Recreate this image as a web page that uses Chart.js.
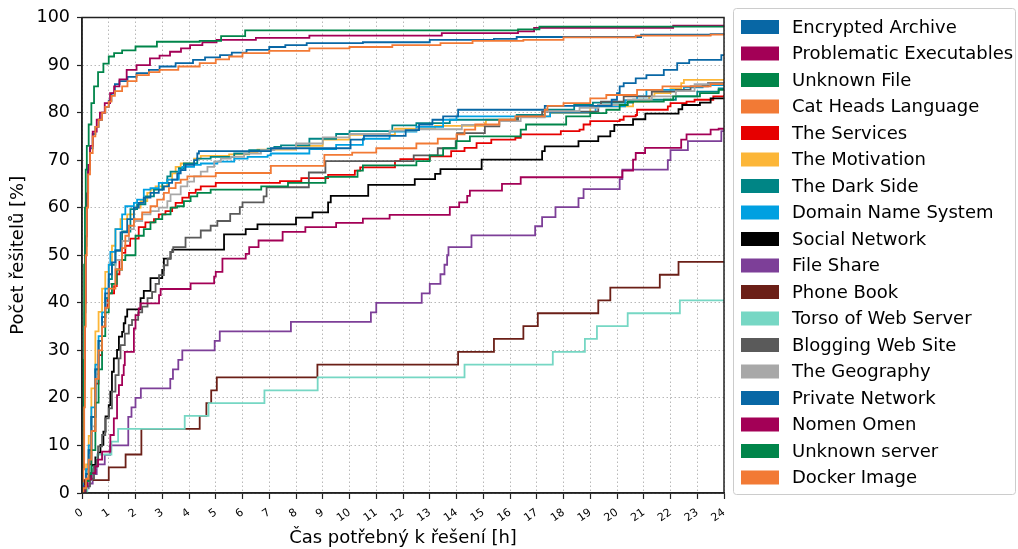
<!DOCTYPE html>
<html>
<head>
<meta charset="utf-8">
<script src="https://cdn.jsdelivr.net/npm/chart.js@4/dist/chart.umd.min.js"></script>
<style>
  html, body { margin: 0; padding: 0; background: #fff; }
  canvas { display: block; }
</style>
</head>
<body>
<canvas id="chart" width="1018" height="549"></canvas>
<script>
// series names and colours (palette repeats after 14 entries)
const seriesNames = [
  'Encrypted Archive', 'Problematic Executables', 'Unknown File', 'Cat Heads Language',
  'The Services', 'The Motivation', 'The Dark Side', 'Domain Name System',
  'Social Network', 'File Share', 'Phone Book', 'Torso of Web Server',
  'Blogging Web Site', 'The Geography', 'Private Network', 'Nomen Omen',
  'Unknown server', 'Docker Image'
];
const seriesColors = [
  '#0867a5', '#a30056', '#00854a', '#f27a35',
  '#e60000', '#fcb638', '#008585', '#00a0e1',
  '#000000', '#7d3f98', '#6b1f17', '#76d7c4',
  '#5a5a5a', '#a8a8a8', '#0867a5', '#a30056',
  '#00854a', '#f27a35'
];

// [hours, percent of solvers]
const encryptedArchive = [[0,0],[0.04,6],[0.07,20],[0.1,38],[0.13,52],[0.17,62],[0.22,68],[0.3,72.5],[0.4,75.5],[0.5,77],[0.62,78.5],[0.75,80],[0.87,81.2],[1.0,82.5],[1.1,84],[1.23,86],[1.4,86.6],[1.7,87.5],[2.04,88.3],[2.5,89],[2.9,89.7],[3.5,90.4],[4.15,91.1],[4.6,91.6],[5.16,92.1],[5.6,92.6],[6.15,93.2],[7.0,93.8],[7.6,94.2],[8.4,94.6],[10.5,94.8],[13.0,95.3],[15.4,95.5],[16.25,95.9],[20.9,96.4],[23.5,96.5],[24,96.5]];
const problematicExecutables = [[0,0],[0.04,7],[0.08,24],[0.11,40],[0.14,54],[0.18,63],[0.23,69],[0.3,73],[0.4,76],[0.55,78.5],[0.67,80],[0.85,82],[1.05,84.1],[1.2,85.5],[1.4,87],[1.67,89],[2.04,90],[2.54,91.4],[2.9,92],[3.29,92.8],[3.7,93.5],[4.04,94.2],[4.5,94.8],[5.03,95.3],[6.5,95.7],[8.5,96.2],[13.45,96.7],[16.3,97.1],[16.9,97.8],[22.1,98.3],[24,98.3]];
const unknownFile = [[0,0],[0.03,10],[0.05,28],[0.08,48],[0.11,60],[0.14,68],[0.18,73],[0.25,77.5],[0.35,82],[0.45,85.5],[0.6,88.5],[0.8,90.3],[1.0,91.8],[1.2,92.5],[1.5,93.1],[2.0,93.9],[2.8,94.9],[4.4,95.1],[5.2,96.1],[6.1,97.3],[16.3,97.5],[17.1,98.1],[24,98.1]];
const catHeadsLanguage = [[0,0],[0.05,5],[0.08,18],[0.11,35],[0.14,50],[0.18,60],[0.23,67],[0.3,71.5],[0.4,75],[0.5,77],[0.62,78.5],[0.75,80],[0.87,81.2],[1.0,82.3],[1.1,83.5],[1.23,84.5],[1.5,85.5],[1.7,86.6],[2.04,87.9],[2.5,88.5],[2.9,89],[3.6,89.7],[4.4,90.4],[5.0,91.2],[5.5,91.8],[6.0,92.5],[7.0,93],[8.5,93.5],[10,93.8],[11.6,94.2],[13.4,94.6],[14.6,95.1],[16.5,95.3],[18,95.8],[20.7,96.2],[23.5,96.4],[24,96.6]];
const theServices = [[0,0],[0.05,1],[0.15,3],[0.25,6],[0.35,13],[0.5,23],[0.62,29],[0.75,35],[0.87,39],[0.95,41],[1.0,42],[1.2,43.5],[1.3,46],[1.4,49],[1.5,50.5],[1.62,52],[1.8,53.5],[2.12,55.9],[2.37,56.9],[2.69,57.6],[2.87,58.6],[3.12,59.3],[3.37,60],[3.5,61],[3.75,62.1],[4.0,63.1],[4.25,63.8],[4.44,64.5],[5.0,65.2],[7.4,65.6],[8.2,66.2],[9.2,66.9],[10.2,67.8],[10.4,68.5],[11.7,69.8],[11.9,70.2],[13.0,70.8],[13.8,71.9],[14.3,72.6],[14.75,73.6],[15.3,74.3],[16.2,74.7],[16.4,75.4],[17.9,76.1],[18.6,76.4],[18.75,77.5],[19.0,78.2],[20.1,78.5],[20.25,79.2],[20.7,79.5],[20.75,80.6],[21.9,81.3],[22.0,82.0],[22.6,82.3],[22.9,82.7],[23.6,83.4],[24,83.7]];
const theMotivation = [[0,0],[0.05,2],[0.15,6],[0.25,12],[0.35,22],[0.5,34],[0.62,38.1],[0.75,43],[0.87,46.5],[1.0,48],[1.12,52],[1.25,55.5],[1.44,57.6],[1.69,58.6],[1.94,60],[2.19,61.4],[2.44,63.1],[2.56,63.8],[2.75,64.5],[3.19,65.9],[3.37,67.2],[3.5,68.6],[3.69,69.3],[4.19,70.3],[4.44,70.9],[5.5,71.2],[6.25,71.7],[6.56,72.2],[8.0,73.0],[9.0,74.3],[10.0,75.3],[11.7,76.6],[13.2,77.2],[15.06,77.8],[15.1,78.5],[16.3,79.2],[17.5,79.9],[19.0,81.3],[20.6,82.3],[21.2,83.4],[21.4,84.1],[22.0,85.1],[22.4,86.2],[22.5,86.9],[24,86.9]];
const theDarkSide = [[0,0],[0.05,1.5],[0.15,4],[0.25,9],[0.35,16],[0.5,26],[0.62,32],[0.75,37],[0.87,41],[1.0,45],[1.12,48],[1.25,51],[1.5,55],[1.81,59.7],[2.06,60.7],[2.37,62.4],[2.69,63.8],[3.0,65.2],[3.19,66.6],[3.31,67.6],[3.62,68.3],[3.81,69.3],[4.31,70.3],[4.81,70.7],[5.69,71.4],[6.25,72.1],[6.94,72.4],[7.19,72.8],[7.44,73.1],[8.5,74.5],[9.5,75.5],[10.0,76.1],[11.6,77.3],[12.5,77.8],[13.75,78.5],[16.25,79.5],[17.3,80.6],[18.4,81.6],[19.1,82.1],[20.6,82.7],[22.2,83.4],[23.0,84.4],[23.8,85.1],[24,85.1]];
const domainNameSystem = [[0,0],[0.05,2],[0.15,5],[0.25,10],[0.35,18],[0.5,27],[0.62,33],[0.75,38],[0.87,43],[1.0,48],[1.06,50.7],[1.25,55.5],[1.5,58.6],[1.62,60.3],[1.94,61],[2.06,61.7],[2.31,63.8],[2.56,64.1],[2.87,65.2],[3.19,65.9],[3.62,67.9],[3.75,68.6],[4.19,69],[4.44,69.3],[5.06,69.7],[5.69,70.3],[6.19,70.7],[6.94,71],[7.06,71.4],[8.5,72.3],[9.5,73.2],[10.5,74.5],[11.5,76],[12.5,77],[13.5,78.5],[14,79.2],[17.5,80],[19.2,81.3],[20.3,82.6],[20.75,83.4],[21.1,84.8],[22.5,85.3],[23.2,85.8],[24,85.8]];
const socialNetwork = [[0,0],[0.1,1.4],[0.2,2.8],[0.3,4.2],[0.37,5.9],[0.5,7.5],[0.6,8.5],[0.69,10.1],[0.8,12.9],[0.88,16.1],[1.0,18.5],[1.06,21.3],[1.12,25.5],[1.19,28.3],[1.31,30.1],[1.38,32.9],[1.5,33.9],[1.56,35.7],[1.62,37.1],[1.69,38.6],[2.19,41],[2.31,42.5],[2.56,45.2],[3.0,46.9],[3.06,49.3],[3.31,50.7],[3.38,51.2],[5.31,54.4],[6.12,55.5],[6.56,56.5],[8.0,57.9],[8.62,59],[9.2,61.1],[9.3,62.5],[10.7,64.8],[12.44,66],[13.2,67.1],[13.4,68.1],[14.94,70.1],[17.2,71.9],[17.3,72.9],[18.56,74],[19.3,75],[19.75,76.1],[19.9,77.4],[20.6,78.6],[21.06,79.8],[22.3,80.7],[22.44,81.6],[23.1,82.1],[23.5,83.0],[24,83.0]];
const fileShare = [[0,0],[0.1,1],[0.25,2],[0.4,4],[0.55,6],[0.85,8],[1.05,10],[1.73,16],[1.85,18],[2.0,20],[2.2,22],[3.3,24],[3.4,26],[3.6,28],[3.75,30],[4.96,32],[5.15,34],[7.81,36],[10.8,38],[11.0,40],[12.7,42],[13.0,44],[13.4,46],[13.55,48],[13.65,50],[13.7,51.7],[14.56,54.2],[16.94,56.1],[17.2,58],[17.7,60.1],[18.56,62],[18.75,63.9],[20.1,66],[20.2,68],[21.9,70],[22.0,72.1],[22.65,74],[23.9,76.1],[24,76.1]];
const phoneBook = [[0,0],[0.1,2.7],[1.0,5.4],[1.63,8.1],[2.22,13.5],[4.4,16.2],[4.65,18.9],[4.83,21.6],[5.04,24.3],[8.8,27.0],[14.06,29.7],[15.4,32.4],[16.5,35.1],[17.04,37.8],[19.3,40.5],[19.75,43.2],[21.6,45.9],[22.3,48.6],[24,48.6]];
const torsoOfWebServer = [[0,0],[0.2,2.7],[0.36,5.4],[0.57,8.1],[1.1,10.8],[1.35,13.5],[3.84,16.2],[4.73,18.9],[6.82,21.6],[8.81,24.3],[14.3,27.0],[17.6,29.7],[18.8,32.4],[19.25,35.1],[20.4,37.8],[22.35,40.5],[24,40.5]];
const bloggingWebSite = [[0,0],[0.15,1.4],[0.3,3],[0.45,5.5],[0.55,7],[0.6,9.8],[0.75,12.2],[0.87,15.7],[1.0,17.8],[1.12,21.3],[1.25,24.8],[1.37,28.3],[1.44,31.1],[1.6,33.5],[1.75,35.3],[1.87,36.4],[2.1,38],[2.25,39.2],[2.45,41],[2.62,42.3],[2.75,44],[2.88,45.8],[3.06,47.9],[3.2,49.3],[3.31,50.7],[3.41,51.7],[3.87,53.7],[4.44,55.2],[4.81,56.2],[5.06,57.2],[5.54,58.7],[5.9,60.1],[6.0,61.1],[6.79,62.4],[6.9,64.3],[8.48,67.4],[9.1,69.8],[12.4,71],[13.3,72.5],[13.97,74],[14.02,75.7],[15.06,77.1],[15.6,78.2],[16.3,79.2],[17.2,80.2],[19.3,81.6],[19.4,82.3],[20.25,83.4],[21.3,84.4],[22.2,84.8],[22.75,85.5],[23.4,86.2],[24,86.2]];
const theGeography = [[0,0],[0.05,1.5],[0.15,4],[0.25,8],[0.35,14],[0.5,25],[0.62,31],[0.75,36],[0.87,40],[1.0,44],[1.25,49],[1.5,53],[1.75,55.5],[1.94,57.2],[2.25,58.6],[2.56,59.3],[2.87,60],[3.19,61.4],[3.31,62.8],[3.69,64.5],[3.94,65.5],[4.19,66.6],[4.44,67.6],[4.69,68.6],[4.94,69.7],[5.19,70.3],[5.56,70.7],[6.06,71.4],[6.69,72.1],[7.19,72.4],[8.0,73.5],[9.0,74.8],[10,75.5],[11.5,76.2],[12.5,76.5],[14.2,77.4],[15.6,78.2],[16.4,79],[17.3,80.3],[18.6,81],[19.3,81.6],[20.4,82.7],[21.3,83.4],[22.2,84.5],[22.9,86],[24,86.2]];
const privateNetwork = [[0,0],[0.05,1.5],[0.15,4],[0.25,9],[0.35,16],[0.5,26],[0.62,32],[0.75,37],[0.87,42],[1.0,46],[1.12,48.5],[1.25,51],[1.44,54.8],[1.69,57.6],[1.94,60],[2.12,61],[2.31,62.1],[2.56,63.1],[2.87,63.8],[3.06,64.5],[3.25,65.2],[3.37,65.9],[3.56,67.2],[3.69,67.9],[3.87,69],[4.19,70],[4.31,71.4],[4.37,71.9],[7.06,72.5],[10.04,74.3],[10.54,75.1],[12.1,76.3],[12.6,77.5],[13.1,78.5],[13.5,79.2],[14.06,80.6],[17.3,81.4],[19.8,82.7],[20.0,84.1],[20.1,85.5],[20.25,86.2],[20.7,87.2],[21.1,87.9],[21.75,89],[22.25,90.4],[22.7,91.1],[23.9,92.1],[24,92.1]];
const nomenOmen = [[0,0],[0.1,1.4],[0.2,2.8],[0.35,4.2],[0.5,5.6],[0.6,7],[0.75,8.7],[1.06,12.2],[1.19,15.7],[1.31,20.6],[1.38,22.7],[1.5,24.8],[1.56,26.9],[1.6,29.7],[1.94,34.6],[2.0,37.4],[2.12,38.8],[2.19,39.9],[2.88,41.6],[2.94,42.9],[4.06,44.1],[4.94,45.5],[5.0,46.5],[5.25,49.3],[6.12,50.3],[6.25,51.7],[6.6,53.1],[7.5,54.9],[8.35,55.9],[9.5,56.8],[10.5,57.7],[11.5,58.5],[13.75,60.1],[14.1,61.1],[14.4,62.5],[14.5,63.6],[15.7,65],[16.4,66.4],[20.2,67.8],[20.6,70.1],[20.7,71.5],[21.05,72.6],[22.4,74.3],[22.6,75.4],[23.5,76.4],[23.8,76.6],[24,76.6]];
const unknownServer = [[0,0],[0.05,1],[0.15,2.5],[0.25,4],[0.35,9],[0.5,19],[0.62,26],[0.75,33],[0.87,38],[1.0,42],[1.12,44],[1.3,47],[1.5,49],[1.62,50],[2.0,54.1],[2.31,55.5],[2.56,56.9],[2.75,57.6],[3.0,58.6],[3.31,60],[3.56,60.3],[3.81,61.4],[4.06,62.4],[4.31,63.1],[4.81,63.8],[6.7,64.5],[7.7,65.2],[9.1,66.5],[10.3,67.8],[10.5,68.9],[12.5,69.8],[13.0,71],[13.5,72.5],[14.0,74],[14.5,75],[16.4,76.4],[16.6,77.5],[18.1,79.2],[19.0,79.9],[19.6,80.6],[20.1,81.6],[20.4,82.3],[21.75,82.7],[22.1,83.4],[23.1,84.1],[23.8,84.8],[24,84.8]];
const dockerImage = [[0,0],[0.05,1],[0.15,3],[0.25,7],[0.35,13],[0.5,24],[0.62,30],[0.75,35],[0.87,39],[1.0,43],[1.25,47],[1.5,51.5],[1.62,54.1],[1.75,56.2],[1.94,57.6],[2.25,59],[2.56,60.3],[2.81,61.7],[3.06,63.1],[3.25,64.1],[3.5,65.2],[3.69,65.9],[3.94,66.6],[5.0,67.3],[7.06,68.8],[9.06,71.1],[10.1,71.6],[11.0,72.5],[12.5,73.5],[13.3,74.5],[14.0,75.4],[14.3,76.4],[14.7,77.5],[15.6,78.5],[16.2,79.2],[17.3,80.6],[17.4,81.4],[18.0,82],[19.0,83],[19.6,83.7],[20.75,84.8],[21.7,85.5],[23.5,86.0],[24,86.0]];

const seriesPoints = [
  encryptedArchive, problematicExecutables, unknownFile, catHeadsLanguage,
  theServices, theMotivation, theDarkSide, domainNameSystem,
  socialNetwork, fileShare, phoneBook, torsoOfWebServer,
  bloggingWebSite, theGeography, privateNetwork, nomenOmen,
  unknownServer, dockerImage
];

const xTitle = 'Čas potřebný k řešení [h]';
const yTitle = 'Počet řešitelů [%]';
const FONT = "'DejaVu Sans', sans-serif";

// box around the plot (top and right spines)
const framePlugin = {
  id: 'frame',
  afterDatasetsDraw(chart) {
    const { ctx, chartArea: a } = chart;
    ctx.save();
    ctx.strokeStyle = '#222';
    ctx.lineWidth = 1.5;
    ctx.strokeRect(a.left, a.top, a.right - a.left, a.bottom - a.top);
    ctx.restore();
  }
};

// matplotlib style legend box to the right of the plot
const legendPlugin = {
  id: 'boxLegend',
  afterDraw(chart) {
    const ctx = chart.ctx;
    const x0 = 733.5, y0 = 8.5, w = 282, h = 486, r = 3;
    ctx.save();
    ctx.fillStyle = 'rgba(255,255,255,0.8)';
    ctx.strokeStyle = '#cccccc';
    ctx.lineWidth = 1;
    ctx.beginPath();
    ctx.roundRect(x0, y0, w, h, r);
    ctx.fill();
    ctx.stroke();
    ctx.font = '18px ' + FONT;
    ctx.textBaseline = 'middle';
    chart.data.datasets.forEach((ds, i) => {
      const cy = 27 + i * 26.5;
      ctx.fillStyle = ds.borderColor;
      ctx.fillRect(741, cy - 7, 38, 14);
      ctx.fillStyle = '#000';
      ctx.fillText(ds.label, 792, cy + 1);
    });
    ctx.restore();
  }
};

const datasets = seriesNames.map((name, i) => ({
  label: name,
  data: seriesPoints[i].map(p => ({ x: p[0], y: p[1] })),
  borderColor: seriesColors[i],
  backgroundColor: seriesColors[i],
  borderWidth: 1.8,
  pointRadius: 0,
  stepped: true,
  fill: false,
  order: seriesNames.length - i
}));

new Chart(document.getElementById('chart'), {
  type: 'line',
  data: { datasets },
  options: {
    responsive: false,
    animation: false,
    devicePixelRatio: 1,
    layout: { padding: { left: 0, right: 294, top: 14, bottom: 0 } },
    plugins: {
      legend: { display: false },
      tooltip: { enabled: false }
    },
    scales: {
      x: {
        type: 'linear',
        min: 0,
        max: 24,
        afterFit: s => { s.height = 56; },
        ticks: {
          stepSize: 1,
          autoSkip: false,
          minRotation: 35,
          maxRotation: 35,
          padding: 7,
          labelOffset: 0,
          color: '#000',
          font: { family: FONT, size: 11 }
        },
        grid: {
          color: '#b8b8b8',
          lineWidth: 1,
          tickLength: 6,
          tickColor: '#222',
          tickWidth: 1.2
        },
        border: { display: true, color: '#222', width: 1.5, dash: [1.5, 2.5] },
        title: {
          display: true,
          text: xTitle,
          color: '#000',
          font: { family: FONT, size: 18 },
          padding: { top: 0, bottom: 0 }
        }
      },
      y: {
        min: 0,
        max: 100,
        afterFit: s => { s.width = 82; },
        ticks: {
          stepSize: 10,
          padding: 7,
          color: '#000',
          font: { family: FONT, size: 17.5 }
        },
        grid: {
          color: '#b8b8b8',
          lineWidth: 1,
          tickLength: 5,
          tickColor: '#222',
          tickWidth: 1.2
        },
        border: { display: true, color: '#222', width: 1.5, dash: [1.5, 2.5] },
        title: {
          display: true,
          text: yTitle,
          color: '#000',
          font: { family: FONT, size: 18 },
          padding: { top: 8, bottom: 0 }
        }
      }
    }
  },
  plugins: [framePlugin, legendPlugin]
});
</script>
</body>
</html>
